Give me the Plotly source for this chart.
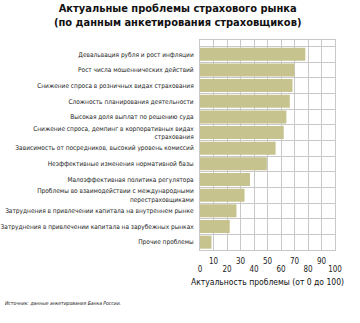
import plotly.graph_objects as go

# Survey results: relevance of each problem, scale 0-100
problems = [
    "Девальвация рубля и рост инфляции",
    "Рост числа мошеннических действий",
    "Снижение спроса в розничных видах страхования",
    "Сложность планирования деятельности",
    "Высокая доля выплат по решению суда",
    "Снижение спроса, демпинг в корпоративных видах<br>страхования",
    "Зависимость от посредников, высокий уровень комиссий",
    "Неэффективные изменения нормативной базы",
    "Малоэффективная политика регулятора",
    "Проблемы во взаимодействии с международными<br>перестраховщиками",
    "Затруднения в привлечении капитала на внутреннем рынке",
    "Затруднения в привлечении капитала на зарубежных рынках",
    "Прочие проблемы",
]
relevance = [78, 70, 68.5, 66.5, 64, 62, 56, 49.5, 37, 33, 27, 22, 8.5]

ticks_upper = [10, 30, 50, 70, 90]
ticks_lower = [0, 20, 40, 60, 80, 100]

NARROW = "DejaVu Sans Condensed, Liberation Sans Narrow, sans-serif"
BAR = "#c6c38e"
GRID = "#c8c8c8"
PLOT_W, PLOT_H = 135, 210  # plot area size in px (from margins below)

fig = go.Figure()
fig.add_trace(go.Bar(
    x=relevance, y=problems, orientation="h",
    marker=dict(color=BAR, line=dict(width=0)),
    xaxis="x", yaxis="y", hoverinfo="x+y",
))
# invisible helper trace so the second tick row has an axis to live on
fig.add_trace(go.Scatter(
    x=[0, 100], y=[problems[0], problems[0]], mode="markers",
    marker=dict(opacity=0), xaxis="x2", yaxis="y", showlegend=False, hoverinfo="skip",
))

fig.update_layout(
    width=360, height=323,
    margin=dict(l=200, r=25, t=40, b=73, autoexpand=False),
    paper_bgcolor="white", plot_bgcolor="white",
    showlegend=False, bargap=0.17,
    xaxis=dict(
        range=[0, 100], tickvals=ticks_upper, ticks="", automargin=False,
        showgrid=True, gridcolor=GRID, gridwidth=1, tickangle=0,
        showline=True, linecolor=GRID, mirror=True, ticklabelstandoff=3,
        tickfont=dict(family=NARROW, size=8, color="#222"),
        zeroline=False,
    ),
    xaxis2=dict(
        range=[0, 100], overlaying="x", side="bottom", anchor="y", automargin=False,
        tickvals=ticks_lower, ticks="", ticklabelstandoff=13, tickangle=0,
        showgrid=True, gridcolor=GRID, gridwidth=1, zeroline=False,
        tickfont=dict(family=NARROW, size=8, color="#222"),
        title=dict(text="Актуальность проблемы (от 0 до 100)", standoff=6,
                   font=dict(family=NARROW, size=8.5, color="#111")),
    ),
    yaxis=dict(
        autorange="reversed", type="category", tickson="boundaries", automargin=False,
        showgrid=True, gridcolor=GRID, gridwidth=1, ticks="",
        showline=True, linecolor=GRID, mirror=True,
        tickfont=dict(family=NARROW, size=6.5, color="#222"),
        ticklabelstandoff=4,
    ),
    annotations=[
        dict(
            text="<b>Актуальные проблемы страхового рынка<br>(по данным анкетирования страховщиков)</b>",
            xref="paper", yref="paper", x=(177 - 200) / PLOT_W, y=1 + 24 / PLOT_H,
            xanchor="center", yanchor="middle", showarrow=False, align="center",
            font=dict(family=NARROW, size=11, color="#111"),
        ),
        dict(
            text="<i>Источник: данные анкетирования Банка России.</i>",
            xref="paper", yref="paper", x=-197 / PLOT_W, y=-53 / PLOT_H,
            xanchor="left", yanchor="middle", showarrow=False,
            font=dict(family=NARROW, size=5, color="#111"),
        ),
    ],
)

fig.write_html("out.html")
